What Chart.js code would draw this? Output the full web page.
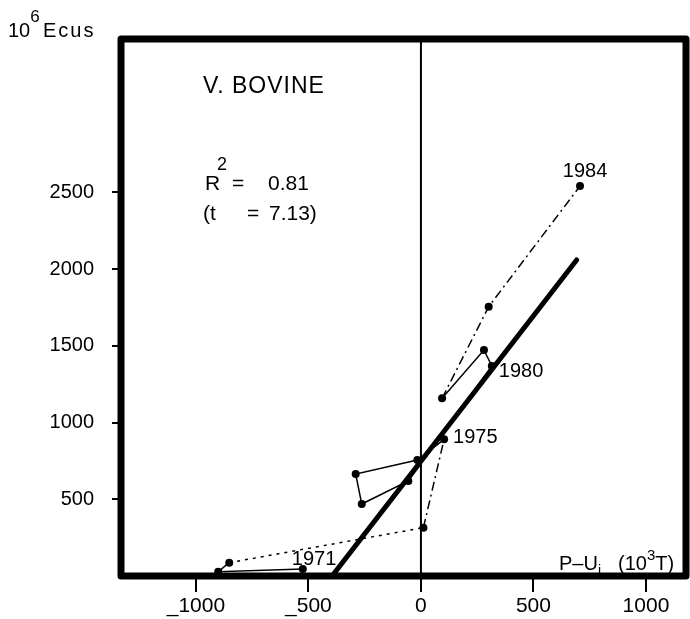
<!DOCTYPE html>
<html>
<head>
<meta charset="utf-8">
<script src="https://cdn.jsdelivr.net/npm/chart.js@4.4.1/dist/chart.umd.min.js"></script>
<style>
  html, body { margin: 0; padding: 0; background: #fff; }
  #wrap { width: 690px; height: 619px; }
</style>
</head>
<body>
<div id="wrap"><canvas id="chart" width="690" height="619"></canvas></div>
<script>
// yearly points, P-Ui (10^3 T) against 10^6 Ecus
const years = [1971, 1972, 1973, 1974, 1975, 1976, 1977, 1978, 1979, 1980, 1981, 1982, 1983, 1984];
const xValues = [-525, -901, -852, 11, 103, -16, -290, -263, -56, 315, 280, 94, 301, 707];
const yValues = [45, 28, 87, 315, 891, 756, 665, 469, 619, 1369, 1473, 1158, 1755, 2542];

// fitted line, end points
const trendX = [-395, 692];
const trendY = [0, 2060];

const xTicks = [-1000, -500, 0, 500, 1000];
const yTicks = [500, 1000, 1500, 2000, 2500];
const labelledYears = [1971, 1975, 1980, 1984];

const FONT = "'Liberation Sans', Arial, sans-serif";

// segments drawn dashed (index of the starting point)
const dotted = [2];
const dashDot = [3, 11, 12];

const pathData = years.map((y, i) => ({ x: xValues[i], y: yValues[i] }));
const trendData = trendX.map((x, i) => ({ x: x, y: trendY[i] }));

function runs(ctx, x, y, parts) {
  // draws text pieces one after another, with optional raise / lower
  parts.forEach(p => {
    ctx.font = (p.size || 20) + "px " + FONT;
    ctx.letterSpacing = (p.ls || 0) + "px";
    const px = p.x !== undefined ? p.x : x;
    ctx.fillText(p.t, px, y + (p.dy || 0));
    x = px + ctx.measureText(p.t).width;
  });
  ctx.letterSpacing = "0px";
}

const decor = {
  id: "decor",
  afterDatasetsDraw(chart) {
    const ctx = chart.ctx;
    const a = chart.chartArea;
    ctx.save();
    // heavy frame
    ctx.strokeStyle = "#000";
    ctx.lineWidth = 7;
    ctx.lineJoin = "round";
    ctx.strokeRect(a.left, a.top, a.right - a.left, a.bottom - a.top);

    ctx.fillStyle = "#000";
    ctx.textBaseline = "alphabetic";
    ctx.textAlign = "left";

    // year labels next to their points
    const meta = chart.getDatasetMeta(0);
    const offs = {
      1971: [-11, -4, "left"],
      1975: [9, 4, "left"],
      1980: [7, 11, "left"],
      1984: [5, -9, "center"]
    };
    ctx.font = "20px " + FONT;
    labelledYears.forEach(yr => {
      const el = meta.data[years.indexOf(yr)];
      const o = offs[yr];
      ctx.textAlign = o[2];
      ctx.fillText(String(yr), el.x + o[0], el.y + o[1]);
    });
    ctx.textAlign = "left";

    // axis titles
    runs(ctx, 8, 37, [
      { t: "10", size: 20 },
      { t: "6", size: 17, dy: -15 },
      { t: "Ecus", size: 20, ls: 2, x: 43 }
    ]);
    runs(ctx, 559, 570, [
      { t: "P", size: 20 },
      { t: "\u2013", size: 20 },
      { t: "U", size: 20 },
      { t: "i", size: 14, dy: 5 },
      { t: "(10", size: 20, x: 618 },
      { t: "3", size: 15, dy: -10 },
      { t: "T)", size: 20 }
    ]);

    // panel text
    runs(ctx, 203, 93, [{ t: "V. BOVINE", size: 23, ls: 1 }]);
    runs(ctx, 205, 190, [
      { t: "R", size: 21 },
      { t: "2", size: 18, dy: -20, x: 217 },
      { t: "=", size: 21, x: 232 },
      { t: "0.81", size: 21, x: 268 }
    ]);
    runs(ctx, 203, 220, [
      { t: "(t", size: 21 },
      { t: "=", size: 21, x: 247 },
      { t: "7.13)", size: 21, x: 269 }
    ]);
    ctx.restore();
  }
};

new Chart(document.getElementById("chart"), {
  type: "scatter",
  data: {
    datasets: [
      {
        data: pathData,
        showLine: true,
        borderColor: "#000",
        borderWidth: 1.5,
        pointRadius: 4,
        pointBackgroundColor: "#000",
        pointBorderWidth: 0,
        order: 0,
        segment: {
          borderDash: c => dotted.includes(c.p0DataIndex) ? [3, 5]
            : dashDot.includes(c.p0DataIndex) ? [9, 4, 2, 4] : undefined
        }
      },
      {
        data: trendData,
        showLine: true,
        borderColor: "#000",
        borderWidth: 5,
        borderCapStyle: "round",
        pointRadius: 0,
        order: 1
      },
      {
        data: [{ x: 0, y: 0 }, { x: 0, y: 3500 }],
        showLine: true,
        borderColor: "#000",
        borderWidth: 2,
        pointRadius: 0,
        order: 2
      }
    ]
  },
  options: {
    responsive: false,
    devicePixelRatio: 1,
    animation: false,
    layout: { padding: { top: 39, right: 4, left: 0, bottom: 0 } },
    plugins: { legend: { display: false }, tooltip: { enabled: false } },
    scales: {
      x: {
        type: "linear",
        min: -1333,
        max: 1178,
        afterBuildTicks: s => { s.ticks = xTicks.map(v => ({ value: v })); },
        afterFit: s => { s.height = 43; },
        border: { display: false },
        grid: { drawOnChartArea: false, drawTicks: true, tickLength: 16, color: "#000", lineWidth: 2 },
        ticks: {
          color: "#000",
          padding: 2,
          maxRotation: 0,
          autoSkip: false,
          font: { family: FONT, size: 21 },
          callback: v => v < 0 ? "_" + Math.abs(v) : String(v)
        }
      },
      y: {
        type: "linear",
        min: 0,
        max: 3500,
        afterBuildTicks: s => { s.ticks = yTicks.map(v => ({ value: v })); },
        afterFit: s => { s.width = 121; },
        border: { display: false },
        grid: { drawOnChartArea: false, drawTicks: true, tickLength: 9, color: "#000", lineWidth: 2 },
        ticks: {
          color: "#000",
          padding: 18,
          autoSkip: false,
          font: { family: FONT, size: 20 },
          callback: v => String(v)
        }
      }
    }
  },
  plugins: [decor]
});
</script>
</body>
</html>
